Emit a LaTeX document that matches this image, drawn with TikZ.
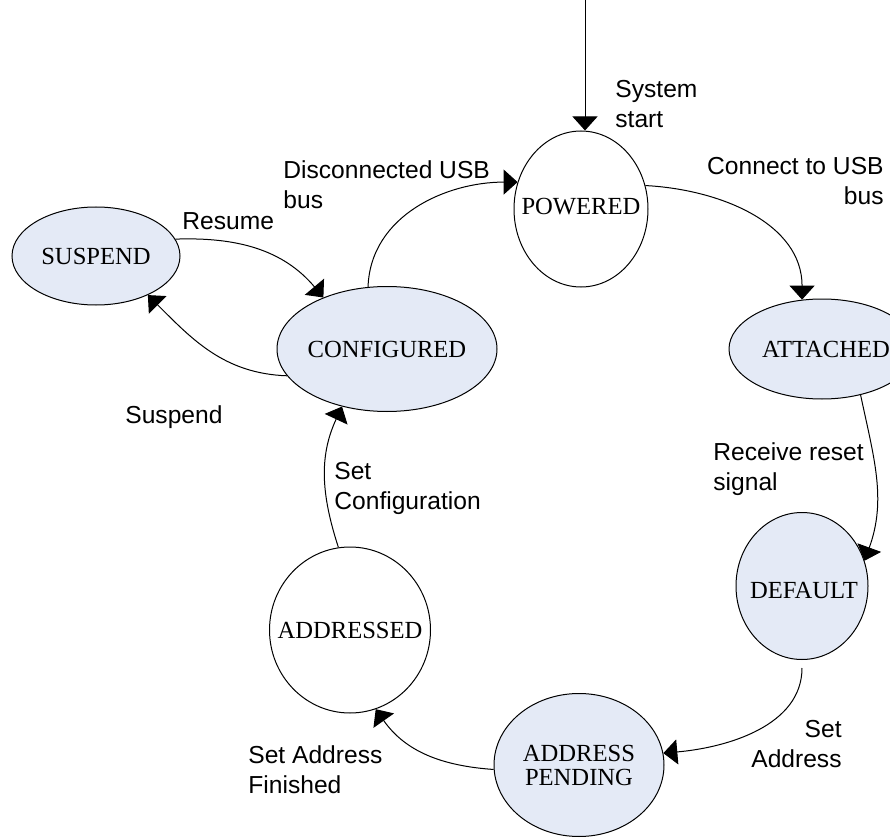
\documentclass[tikz,border=0pt]{standalone}
\usepackage{fontspec}
\setmainfont{Liberation Serif}
\newfontfamily\labfont{Liberation Sans}
\usetikzlibrary{shapes.geometric,arrows.meta}
\definecolor{stfill}{RGB}{228,234,246}
\begin{document}
\begin{tikzpicture}[x=0.5pt,y=-0.5pt,
  st/.style={ellipse,draw,line width=0.5pt,inner sep=0pt},
  stb/.style={st,fill=stfill},
  tx/.style={font=\fontsize{12.3}{12}\selectfont,align=center,inner sep=0pt},
  tr/.style={line width=0.5pt,-{Triangle[length=7pt,width=12.5pt]}},
  lab/.style={font=\labfont\fontsize{12.3}{15}\selectfont,inner sep=0pt}]
\useasboundingbox (0,0) rectangle (890,840);
\clip (0,0) rectangle (890,840);
% states
\node[st, minimum width=67pt, minimum height=78pt, label={[tx,yshift=1pt]center:POWERED}] (pow) at (581,209) {};
\node[stb, minimum width=84pt, minimum height=49pt, label={[tx]center:SUSPEND}] (sus) at (96,256) {};
\node[stb, minimum width=110pt, minimum height=62.5pt, label={[tx]center:CONFIGURED}] (conf) at (387,349) {};
\node[stb, minimum width=93pt, minimum height=50pt, label={[tx,xshift=2pt]center:ATTACHED}] (att) at (822,349) {};
\node[stb, minimum width=66pt, minimum height=73.5pt, label={[tx,xshift=1pt,yshift=-2pt]center:DEFAULT}] (def) at (802,586) {};
\node[stb, minimum width=85pt, minimum height=71.5pt, label={[tx]center:ADDRESS\\PENDING}] (ap) at (579,765) {};
\node[st, minimum width=80.5pt, minimum height=83pt, label={[tx]center:ADDRESSED}] (addr) at (350,630) {};
% start
\coordinate (s0) at (585,0);
\draw[tr] (s0) -- (s0 |- pow.north);
% transitions
\draw[tr] (pow.20) to[out=-3, in=90] (att.112);
\draw[tr] (att.-50) to[out=-78, in=70] (def.22);
\draw[tr, shorten <=4pt] (def.-90) to[out=-90, in=5] (ap.8);
\draw[tr] (ap.183) to[out=176, in=-55] (addr.-72);
\draw[tr] (addr.98) to[out=108, in=-115] (conf.-128);
\draw[tr] (conf.107) to[out=88, in=180] (pow.157);
\draw[tr] (sus.12) to[out=2, in=130] (conf.141);
\draw[tr] (conf.-165) to[out=178, in=-45] (sus.-37);
% labels
\node[lab, anchor=north west, align=left] (l1) at (615,80) {System\\start};
\node[lab, anchor=north west, align=left] (l2) at (283,160) {Disconnected USB\\bus};
\node[lab, anchor=north east, align=right] (l3) at (884,157) {Connect to USB\\bus};
\node[lab, anchor=north west, align=left] (l4) at (182,212) {Resume};
\node[lab, anchor=north west, align=left] (l5) at (125,405) {Suspend};
\node[lab, anchor=north west, align=left] (l6) at (334,462) {Set\\Configuration};
\node[lab, anchor=north west, align=left] (l7) at (713,442) {Receive reset\\signal};
\node[lab, anchor=north east, align=right] (l8) at (842,720) {Set\\Address};
\node[lab, anchor=north west, align=left] (l9) at (248,745) {Set Address\\Finished};
\end{tikzpicture}
\end{document}
